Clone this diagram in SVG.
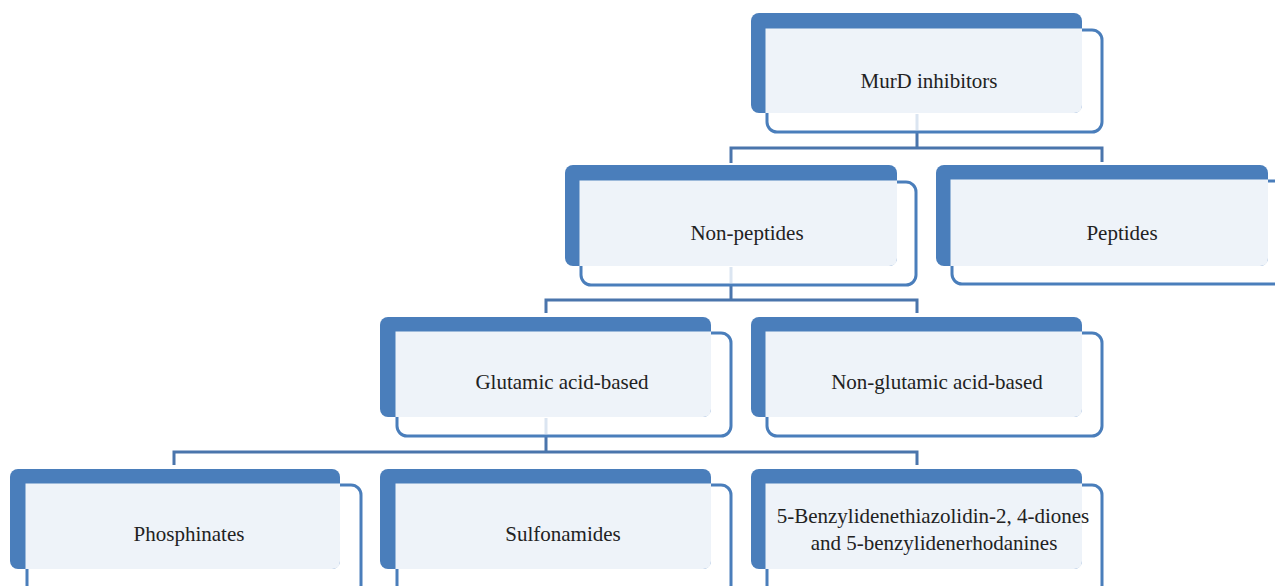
<svg xmlns="http://www.w3.org/2000/svg" width="1275" height="586" viewBox="0 0 1275 586">
<style>
.front{fill:#ffffff;stroke:#4a7ebb;stroke-width:3}
.back{fill:#4a7ebb}
.light{fill:#eef3f9}
.faint{stroke:#dbe5f1;stroke-width:3;fill:none}
.conn{stroke:#4a75ac;stroke-width:3;fill:none}
text{font-family:"Liberation Serif","Times New Roman",serif;font-size:21px;fill:#222222;text-anchor:middle}
</style>
<rect width="1275" height="586" fill="#ffffff"/>
<g id="connectors">
<path class="conn" d="M917,132 V148 M731,163 V148 H1102 V162"/>
<path class="conn" d="M731,285 V300 M546,313 V300 H917 V313"/>
<path class="conn" d="M546,436 V452 M174,465 V452 H917 V465"/>
</g>
<g id="n-murd">
<rect class="front" x="767" y="30" width="335" height="102" rx="10"/>
<rect class="back" x="751" y="13" width="331" height="100" rx="8"/>
<path class="light" d="M765.5,28.5 H1082 V105 Q1082,113 1074,113 H765.5 Z"/>
<line class="faint" x1="917" y1="114" x2="917" y2="130"/>
<text x="929" y="88">MurD inhibitors</text>
</g>
<g id="n-nonpeptides">
<rect class="front" x="581" y="182" width="335" height="103" rx="10"/>
<rect class="back" x="565" y="165" width="332" height="101" rx="8"/>
<path class="light" d="M579.5,180.5 H897 V258 Q897,266 889,266 H579.5 Z"/>
<line class="faint" x1="731" y1="267" x2="731" y2="283"/>
<text x="747" y="240">Non-peptides</text>
</g>
<g id="n-peptides">
<rect class="front" x="952" y="181" width="335" height="103" rx="10"/>
<rect class="back" x="936" y="165" width="332" height="101" rx="8"/>
<path class="light" d="M950.5,179.5 H1268 V258 Q1268,266 1260,266 H950.5 Z"/>
<text x="1122" y="240">Peptides</text>
</g>
<g id="n-glutamic">
<rect class="front" x="397" y="333" width="334" height="103" rx="10"/>
<rect class="back" x="380" y="317" width="331" height="100" rx="8"/>
<path class="light" d="M395.5,331.5 H711 V409 Q711,417 703,417 H395.5 Z"/>
<line class="faint" x1="546" y1="418" x2="546" y2="434"/>
<text x="562" y="389">Glutamic acid-based</text>
</g>
<g id="n-nonglutamic">
<rect class="front" x="767" y="333" width="335" height="103" rx="10"/>
<rect class="back" x="751" y="317" width="331" height="100" rx="8"/>
<path class="light" d="M765.5,331.5 H1082 V409 Q1082,417 1074,417 H765.5 Z"/>
<text x="937" y="389">Non-glutamic acid-based</text>
</g>
<g id="n-phosphinates">
<rect class="front" x="27" y="485" width="334" height="110" rx="10"/>
<rect class="back" x="10" y="469" width="330" height="100" rx="8"/>
<path class="light" d="M25.5,483.5 H340 V561 Q340,569 332,569 H25.5 Z"/>
<text x="189" y="541">Phosphinates</text>
</g>
<g id="n-sulfonamides">
<rect class="front" x="397" y="485" width="334" height="110" rx="10"/>
<rect class="back" x="380" y="469" width="331" height="100" rx="8"/>
<path class="light" d="M395.5,483.5 H711 V561 Q711,569 703,569 H395.5 Z"/>
<text x="563" y="541">Sulfonamides</text>
</g>
<g id="n-benzylidene">
<rect class="front" x="767" y="485" width="335" height="110" rx="10"/>
<rect class="back" x="751" y="469" width="331" height="100" rx="8"/>
<path class="light" d="M765.5,483.5 H1082 V561 Q1082,569 1074,569 H765.5 Z"/>
<text x="933" y="523">5-Benzylidenethiazolidin-2, 4-diones</text>
<text x="934" y="550">and 5-benzylidenerhodanines</text>
</g>
</svg>
